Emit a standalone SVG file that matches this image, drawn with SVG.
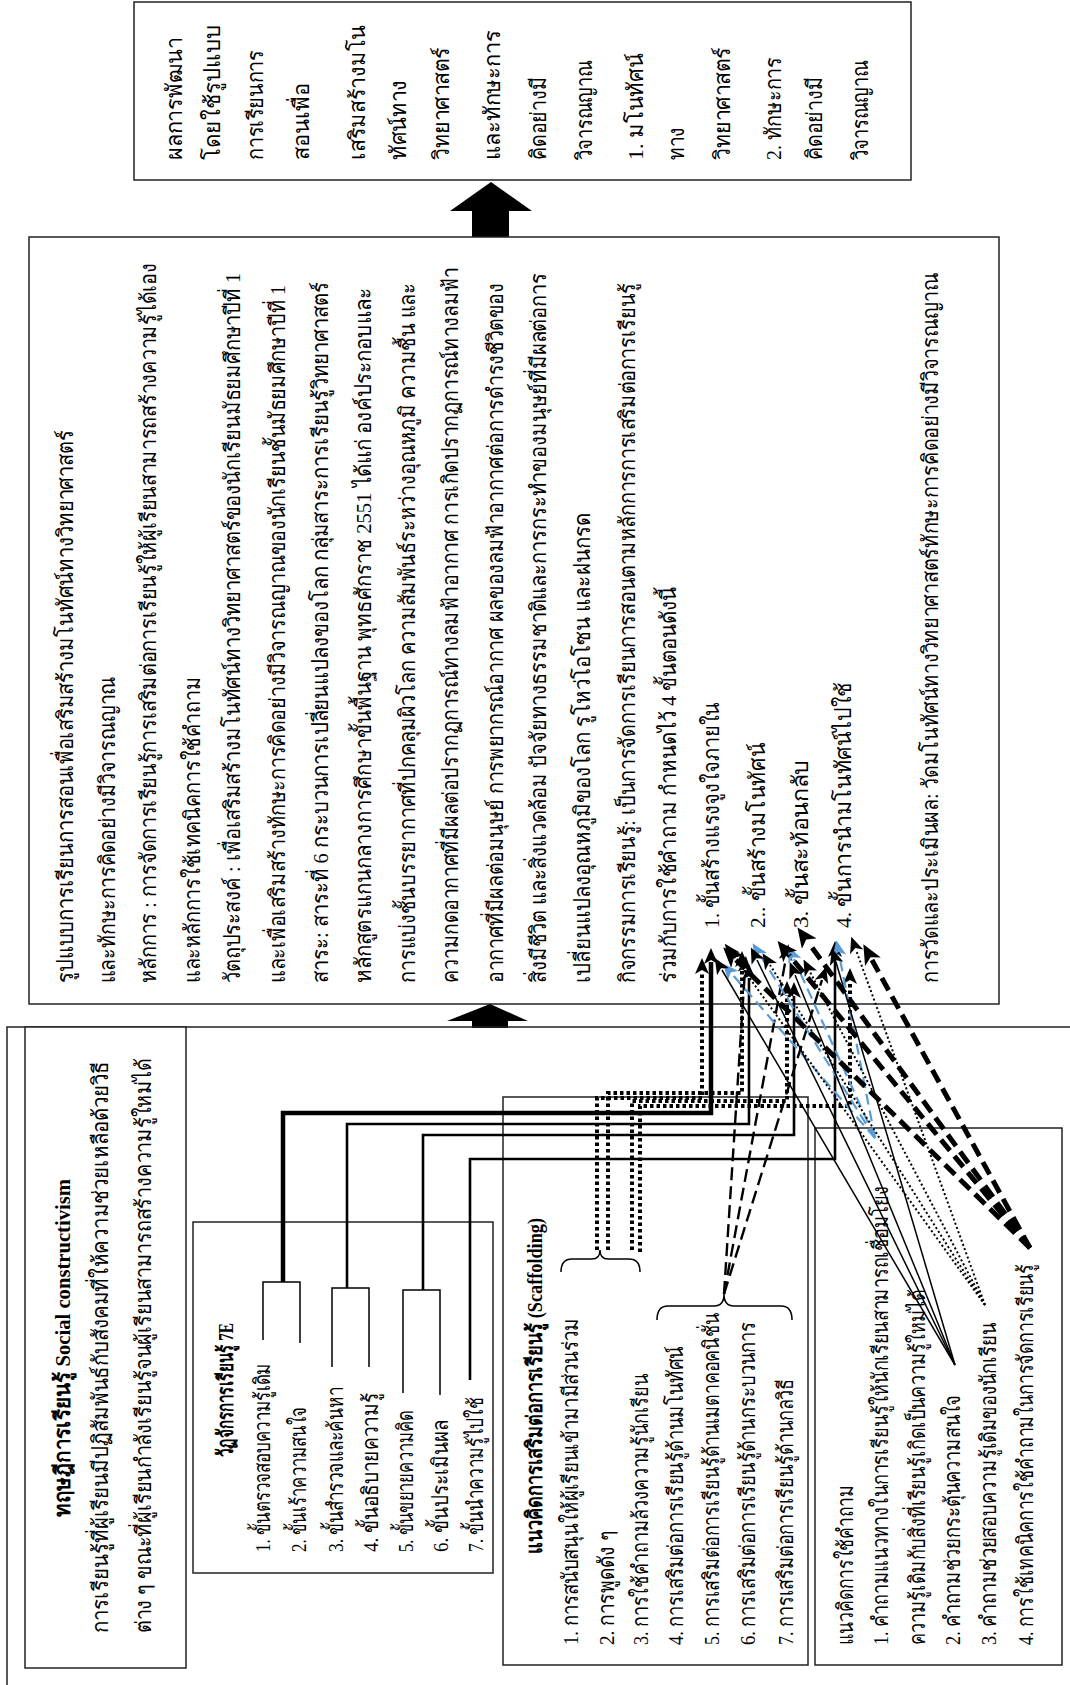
<svg xmlns="http://www.w3.org/2000/svg" width="1070" height="1685" viewBox="0 0 1070 1685">
<style>
.box{fill:#fff;stroke:#222;stroke-width:1.5}
.t{font-family:'Liberation Serif','DejaVu Serif',serif;font-size:22px;fill:#000;dominant-baseline:central}
.b{font-weight:bold}
.c{fill:none;stroke:#000}
.s1{stroke-width:1.5}
.s3{stroke-width:2.6}
.s4{stroke-width:4.5}
.dot{stroke-width:4;stroke-dasharray:3.5 3}
.dot2{stroke-width:2;stroke-dasharray:2 2.5}
.ld{stroke-width:2.4;stroke-dasharray:13 6}
.bd{stroke:#5B9BD5;stroke-width:2.2;stroke-dasharray:11 6}
.td{stroke-width:5;stroke-dasharray:14 7}
</style>
<defs>
<marker id="ak" markerUnits="userSpaceOnUse" markerWidth="16" markerHeight="14" refX="2" refY="7" orient="auto"><path d="M0,0 L16,7 L0,14 L4,7 z" fill="#000"/></marker>
<marker id="ab" markerUnits="userSpaceOnUse" markerWidth="16" markerHeight="14" refX="2" refY="7" orient="auto"><path d="M0,0 L16,7 L0,14 L4,7 z" fill="#5B9BD5"/></marker>
<marker id="al" markerUnits="userSpaceOnUse" markerWidth="20" markerHeight="18" refX="2" refY="9" orient="auto"><path d="M0,0 L20,9 L0,18 L5,9 z" fill="#000"/></marker>
</defs>
<rect width="1070" height="1685" fill="#fff"/>

<g id="result">
<rect class="box" x="134" y="2" width="777" height="178"/>
<g transform="translate(0,1685) rotate(-90)">
<text class="t" x="1525" y="174" textLength="123" lengthAdjust="spacingAndGlyphs">ผลการพัฒนา</text>
<text class="t" x="1525" y="212" textLength="135" lengthAdjust="spacingAndGlyphs">โดยใช้รูปแบบ</text>
<text class="t" x="1525" y="255" textLength="110" lengthAdjust="spacingAndGlyphs">การเรียนการ</text>
<text class="t" x="1525" y="301" textLength="77" lengthAdjust="spacingAndGlyphs">สอนเพื่อ</text>
<text class="t" x="1525" y="357" textLength="135" lengthAdjust="spacingAndGlyphs">เสริมสร้างมโน</text>
<text class="t" x="1525" y="398" textLength="80" lengthAdjust="spacingAndGlyphs">ทัศน์ทาง</text>
<text class="t" x="1525" y="441" textLength="113" lengthAdjust="spacingAndGlyphs">วิทยาศาสตร์</text>
<text class="t" x="1525" y="492" textLength="130" lengthAdjust="spacingAndGlyphs">และทักษะการ</text>
<text class="t" x="1525" y="538" textLength="83" lengthAdjust="spacingAndGlyphs">คิดอย่างมี</text>
<text class="t" x="1525" y="584" textLength="100" lengthAdjust="spacingAndGlyphs">วิจารณญาณ</text>
<text class="t" x="1525" y="635" textLength="107" lengthAdjust="spacingAndGlyphs">1. มโนทัศน์</text>
<text class="t" x="1525" y="676" textLength="33" lengthAdjust="spacingAndGlyphs">ทาง</text>
<text class="t" x="1525" y="722" textLength="113" lengthAdjust="spacingAndGlyphs">วิทยาศาสตร์</text>
<text class="t" x="1525" y="773" textLength="103" lengthAdjust="spacingAndGlyphs">2. ทักษะการ</text>
<text class="t" x="1525" y="814" textLength="83" lengthAdjust="spacingAndGlyphs">คิดอย่างมี</text>
<text class="t" x="1525" y="860" textLength="100" lengthAdjust="spacingAndGlyphs">วิจารณญาณ</text>
</g>
</g>

<g id="arrow-up-1"><polygon points="491,182 450,211 472,211 472,237 509,237 509,211 532,211" fill="#000"/></g>

<g id="model">
<rect class="box" x="29" y="237" width="970" height="767"/>
<g transform="translate(0,1685) rotate(-90)">
<text class="t" x="702" y="65" textLength="553" lengthAdjust="spacingAndGlyphs">รูปแบบการเรียนการสอนเพื่อเสริมสร้างมโนทัศน์ทางวิทยาศาสตร์</text>
<text class="t" x="702" y="107" textLength="306" lengthAdjust="spacingAndGlyphs">และทักษะการคิดอย่างมีวิจารณญาณ</text>
<text class="t" x="702" y="148" textLength="720" lengthAdjust="spacingAndGlyphs">หลักการ : การจัดการเรียนรู้การเสริมต่อการเรียนรู้ให้ผู้เรียนสามารถสร้างความรู้ได้เอง</text>
<text class="t" x="702" y="192" textLength="306" lengthAdjust="spacingAndGlyphs">และหลักการใช้เทคนิคการใช้คำถาม</text>
<text class="t" x="702" y="232" textLength="710" lengthAdjust="spacingAndGlyphs">วัตถุประสงค์ : เพื่อเสริมสร้างมโนทัศน์ทางวิทยาศาสตร์ของนักเรียนมัธยมศึกษาปีที่ 1</text>
<text class="t" x="702" y="277" textLength="698" lengthAdjust="spacingAndGlyphs">และเพื่อเสริมสร้างทักษะการคิดอย่างมีวิจารณญาณของนักเรียนชั้นมัธยมศึกษาปีที่ 1</text>
<text class="t" x="702" y="320" textLength="701" lengthAdjust="spacingAndGlyphs">สาระ: สาระที่ 6 กระบวนการเปลี่ยนแปลงของโลก กลุ่มสาระการเรียนรู้วิทยาศาสตร์</text>
<text class="t" x="702" y="363" textLength="695" lengthAdjust="spacingAndGlyphs">หลักสูตรแกนกลางการศึกษาขั้นพื้นฐาน พุทธศักราช 2551 ได้แก่ องค์ประกอบและ</text>
<text class="t" x="702" y="407" textLength="700" lengthAdjust="spacingAndGlyphs">การแบ่งชั้นบรรยากาศที่ปกคลุมผิวโลก ความสัมพันธ์ระหว่างอุณหภูมิ ความชื้น และ</text>
<text class="t" x="702" y="450" textLength="716" lengthAdjust="spacingAndGlyphs">ความกดอากาศที่มีผลต่อปรากฏการณ์ทางลมฟ้าอากาศ การเกิดปรากฏการณ์ทางลมฟ้า</text>
<text class="t" x="702" y="495" textLength="700" lengthAdjust="spacingAndGlyphs">อากาศที่มีผลต่อมนุษย์ การพยากรณ์อากาศ ผลของลมฟ้าอากาศต่อการดำรงชีวิตของ</text>
<text class="t" x="702" y="538" textLength="710" lengthAdjust="spacingAndGlyphs">สิ่งมีชีวิต และสิ่งแวดล้อม ปัจจัยทางธรรมชาติและการกระทำของมนุษย์ที่มีผลต่อการ</text>
<text class="t" x="702" y="582" textLength="470" lengthAdjust="spacingAndGlyphs">เปลี่ยนแปลงอุณหภูมิของโลก รูโหว่โอโซน และฝนกรด</text>
<text class="t" x="702" y="627" textLength="700" lengthAdjust="spacingAndGlyphs">กิจกรรมการเรียนรู้: เป็นการจัดการเรียนการสอนตามหลักการการเสริมต่อการเรียนรู้</text>
<text class="t" x="702" y="668" textLength="396" lengthAdjust="spacingAndGlyphs">ร่วมกับการใช้คำถาม  กำหนดไว้ 4 ขั้นตอนดังนี้</text>
<text class="t" x="757" y="711" textLength="226" lengthAdjust="spacingAndGlyphs">1.  ขั้นสร้างแรงจูงใจภายใน</text>
<text class="t" x="757" y="757" textLength="185" lengthAdjust="spacingAndGlyphs">2..  ขั้นสร้างมโนทัศน์</text>
<text class="t" x="757" y="800" textLength="168" lengthAdjust="spacingAndGlyphs">3.  ขั้นสะท้อนกลับ</text>
<text class="t" x="757" y="843" textLength="246" lengthAdjust="spacingAndGlyphs">4.  ขั้นการนำมโนทัศน์ไปใช้</text>
<text class="t" x="702" y="930" textLength="710" lengthAdjust="spacingAndGlyphs">การวัดและประเมินผล: วัดมโนทัศน์ทางวิทยาศาสตร์ทักษะการคิดอย่างมีวิจารณญาณ</text>
</g>
</g>

<g id="arrow-up-2"><polygon points="490,1004 447,1021 472,1021 472,1028 508,1028 508,1021 528,1021" fill="#000"/></g>

<g id="frame"><path d="M7,1685 V1027 H1070" fill="none" stroke="#222" stroke-width="1.5"/></g>

<g id="theory">
<rect class="box" x="25" y="1027" width="161" height="641"/>
<g transform="translate(0,1685) rotate(-90)">
<text class="t b" x="168" y="62" textLength="338" lengthAdjust="spacingAndGlyphs">ทฤษฎีการเรียนรู้ <tspan font-family="'Liberation Serif',serif">Social constructivism</tspan></text>
<text class="t" x="52" y="100" textLength="571" lengthAdjust="spacingAndGlyphs">การเรียนรู้ที่ผู้เรียนมีปฏิสัมพันธ์กับสังคมที่ให้ความช่วยเหลือด้วยวิธี</text>
<text class="t" x="52" y="143" textLength="575" lengthAdjust="spacingAndGlyphs">ต่าง ๆ ขณะที่ผู้เรียนกำลังเรียนรู้จนผู้เรียนสามารถสร้างความรู้ใหม่ได้</text>
</g>
</g>

<g id="cycle7e">
<rect class="box" x="193" y="1222" width="300" height="351"/>
<g transform="translate(0,1685) rotate(-90)">
<text class="t b" x="228" y="225" textLength="134" lengthAdjust="spacingAndGlyphs">วัฏจักรการเรียนรู้ 7E</text>
<text class="t" x="133" y="262" textLength="189" lengthAdjust="spacingAndGlyphs">1. ขั้นตรวจสอบความรู้เดิม</text>
<text class="t" x="133" y="298" textLength="145" lengthAdjust="spacingAndGlyphs">2. ขั้นเร้าความสนใจ</text>
<text class="t" x="133" y="335" textLength="165" lengthAdjust="spacingAndGlyphs">3. ขั้นสำรวจและค้นหา</text>
<text class="t" x="133" y="370" textLength="159" lengthAdjust="spacingAndGlyphs">4. ขั้นอธิบายความรู้</text>
<text class="t" x="133" y="405" textLength="142" lengthAdjust="spacingAndGlyphs">5. ขั้นขยายความคิด</text>
<text class="t" x="133" y="440" textLength="132" lengthAdjust="spacingAndGlyphs">6. ขั้นประเมินผล</text>
<text class="t" x="133" y="475" textLength="155" lengthAdjust="spacingAndGlyphs">7. ขั้นนำความรู้ไปใช้</text>
</g>
</g>

<g id="scaffolding">
<rect class="box" x="503" y="1097" width="305" height="568"/>
<g transform="translate(0,1685) rotate(-90)">
<text class="t b" x="131" y="534" textLength="336" lengthAdjust="spacingAndGlyphs">แนวคิดการเสริมต่อการเรียนรู้ (Scaffolding)</text>
<text class="t" x="40" y="570" textLength="327" lengthAdjust="spacingAndGlyphs">1. การสนับสนุนให้ผู้เรียนเข้ามามีส่วนร่วม</text>
<text class="t" x="40" y="606" textLength="114" lengthAdjust="spacingAndGlyphs">2. การพูดดัง ๆ</text>
<text class="t" x="40" y="640" textLength="271" lengthAdjust="spacingAndGlyphs">3. การใช้คำถามล้วงความรู้นักเรียน</text>
<text class="t" x="40" y="675" textLength="299" lengthAdjust="spacingAndGlyphs">4. การเสริมต่อการเรียนรู้ด้านมโนทัศน์</text>
<text class="t" x="40" y="711" textLength="332" lengthAdjust="spacingAndGlyphs">5. การเสริมต่อการเรียนรู้ด้านเมตาคอคนิชั่น</text>
<text class="t" x="40" y="747" textLength="323" lengthAdjust="spacingAndGlyphs">6. การเสริมต่อการเรียนรู้ด้านกระบวนการ</text>
<text class="t" x="40" y="785" textLength="266" lengthAdjust="spacingAndGlyphs">7. การเสริมต่อการเรียนรู้ด้านกลวิธี</text>
</g>
</g>

<g id="questioning">
<rect class="box" x="815" y="1128" width="247" height="537"/>
<g transform="translate(0,1685) rotate(-90)">
<text class="t" x="40" y="845" textLength="160" lengthAdjust="spacingAndGlyphs">แนวคิดการใช้คำถาม</text>
<text class="t" x="40" y="880" textLength="459" lengthAdjust="spacingAndGlyphs">1. คำถามแนวทางในการเรียนรู้ให้นักเรียนสามารถเชื่อมโยง</text>
<text class="t" x="40" y="917" textLength="356" lengthAdjust="spacingAndGlyphs">ความรู้เดิมกับสิ่งที่เรียนรู้เกิดเป็นความรู้ใหม่ได้</text>
<text class="t" x="40" y="952" textLength="250" lengthAdjust="spacingAndGlyphs">2. คำถามช่วยกระตุ้นความสนใจ</text>
<text class="t" x="40" y="988" textLength="322" lengthAdjust="spacingAndGlyphs">3. คำถามช่วยสอบความรู้เดิมของนักเรียน</text>
<text class="t" x="40" y="1025" textLength="381" lengthAdjust="spacingAndGlyphs">4. การใช้เทคนิคการใช้คำถามในการจัดการเรียนรู้</text>
</g>
</g>

<g id="connectors">
<path class="c s1" d="M263,1340 V1282 H300 V1343"/>
<path class="c s1" d="M332,1367 V1288 H369 V1367"/>
<path class="c s1" d="M403,1393 V1290 H440 V1395"/>
<path class="c s4" d="M283,1282 V1113 H711 V962" marker-end="url(#ak)"/>
<path class="c s3" d="M347,1288 V1124 H749 V978" marker-end="url(#ak)"/>
<path class="c s3" d="M423,1290 V1135 H794 V996" marker-end="url(#ak)"/>
<path class="c s3" d="M470,1380 V1159 H835 V955" marker-end="url(#ak)"/>
<path class="c s1" d="M561,1272 Q561,1259 572,1259 H592 Q600,1259 600,1250 Q600,1259 608,1259 H629 Q640,1259 640,1272"/>
<path class="c s1" d="M657,1320 Q657,1306 668,1306 H714 Q724,1306 724,1294 Q724,1306 734,1306 H781 Q792,1306 792,1320"/>
<path class="c dot" d="M597,1250 V1098 H702 V972" marker-end="url(#ak)"/>
<path class="c dot" d="M608,1250 V1093 H742 V965" marker-end="url(#ak)"/>
<path class="c dot" d="M632,1250 V1101 H787 V995" marker-end="url(#ak)"/>
<path class="c dot" d="M640,1252 V1106 H850 V982" marker-end="url(#ak)"/>
<path class="c ld" d="M724,1294 L745,970" marker-end="url(#ak)"/>
<path class="c ld" d="M724,1294 L786,958" marker-end="url(#ak)"/>
<path class="c ld" d="M724,1294 L822,980" marker-end="url(#ak)"/>
<path class="c bd" d="M875,1138 L732,974" marker-end="url(#ab)"/>
<path class="c bd" d="M875,1138 L760,955" marker-end="url(#ab)"/>
<path class="c bd" d="M875,1138 L794,959" marker-end="url(#ab)"/>
<path class="c bd" d="M875,1138 L839,954" marker-end="url(#ab)"/>
<path class="c s1" d="M955,1365 L722,970" marker-end="url(#ak)"/>
<path class="c s1" d="M955,1365 L757,960" marker-end="url(#ak)"/>
<path class="c s1" d="M955,1365 L795,975" marker-end="url(#ak)"/>
<path class="c s1" d="M955,1365 L836,962" marker-end="url(#ak)"/>
<path class="c dot2" d="M985,1305 L733,955" marker-end="url(#ak)"/>
<path class="c dot2" d="M985,1305 L770,965" marker-end="url(#ak)"/>
<path class="c dot2" d="M985,1305 L810,972" marker-end="url(#ak)"/>
<path class="c dot2" d="M985,1305 L856,950" marker-end="url(#ak)"/>
<path class="c td" d="M1030,1248 L736,960" marker-end="url(#al)"/>
<path class="c td" d="M1030,1248 L789,955" marker-end="url(#al)"/>
<path class="c td" d="M1030,1248 L808,942" marker-end="url(#al)"/>
<path class="c td" d="M1030,1248 L872,960" marker-end="url(#al)"/>
</g>
</svg>
